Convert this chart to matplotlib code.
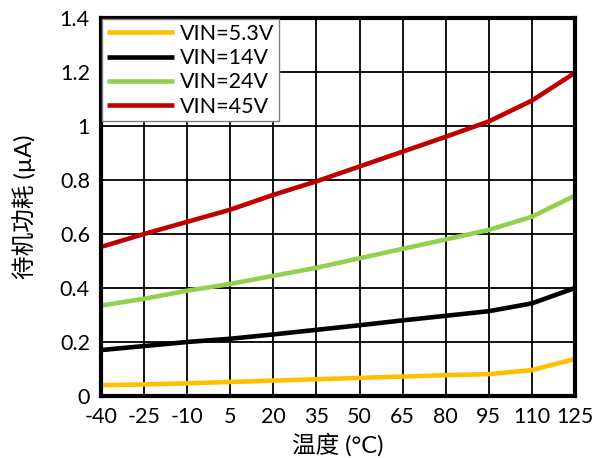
import matplotlib
matplotlib.use("Agg")
import matplotlib.pyplot as plt
from matplotlib.ticker import FuncFormatter

plt.rcParams['font.family'] = ['Lato', 'Noto Sans CJK SC', 'DejaVu Sans']
plt.rcParams['axes.unicode_minus'] = False

temps = [-40, -25, -10, 5, 20, 35, 50, 65, 80, 95, 110, 125]
vin_5v3 = [0.040, 0.043, 0.047, 0.052, 0.057, 0.062, 0.067, 0.072, 0.077, 0.081, 0.096, 0.137]
vin_14 = [0.170, 0.185, 0.200, 0.212, 0.228, 0.245, 0.262, 0.280, 0.297, 0.314, 0.343, 0.400]
vin_24 = [0.335, 0.360, 0.390, 0.415, 0.445, 0.475, 0.510, 0.545, 0.580, 0.615, 0.664, 0.742]
vin_45 = [0.552, 0.600, 0.645, 0.690, 0.745, 0.795, 0.850, 0.905, 0.960, 1.017, 1.094, 1.197]

series = [
    ("VIN=5.3V", vin_5v3, "#FFC000"),
    ("VIN=14V", vin_14, "#000000"),
    ("VIN=24V", vin_24, "#92D050"),
    ("VIN=45V", vin_45, "#C00000"),
]

fig = plt.figure(figsize=(5.93, 4.58), dpi=100)
ax = fig.add_axes([0.1703, 0.1354, 0.7993, 0.8253])

for label, vals, color in series:
    ax.plot(temps, vals, color=color, lw=3.3, label=label, solid_capstyle='butt',
            solid_joinstyle='round', zorder=3)

ax.set_xlim(-40, 125)
ax.set_ylim(0, 1.4)
ax.set_xticks(temps)
ax.set_yticks([0, 0.2, 0.4, 0.6, 0.8, 1.0, 1.2, 1.4])
ax.yaxis.set_major_formatter(FuncFormatter(lambda v, p: f"{v:g}"))
ax.grid(True, color='black', lw=1.3, zorder=1)
ax.tick_params(length=0, labelsize=15.5, pad=8)
for s in ax.spines.values():
    s.set_linewidth(3)
    s.set_color('black')
    s.set_zorder(4)

ax.set_xlabel("温度 (°C)", fontsize=17, labelpad=4)
ax.set_ylabel("待机功耗 (µA)", fontsize=17, labelpad=17)

leg = ax.legend(loc='upper left', fontsize=15.5, frameon=True, fancybox=False,
                borderaxespad=0.05, handlelength=3.1, handletextpad=0.3,
                labelspacing=0.2, borderpad=0.22)
leg.get_frame().set_edgecolor('#808080')
leg.get_frame().set_linewidth(1)
leg.get_frame().set_alpha(1)
leg.set_zorder(5)

fig.savefig("out.png", dpi=100)
